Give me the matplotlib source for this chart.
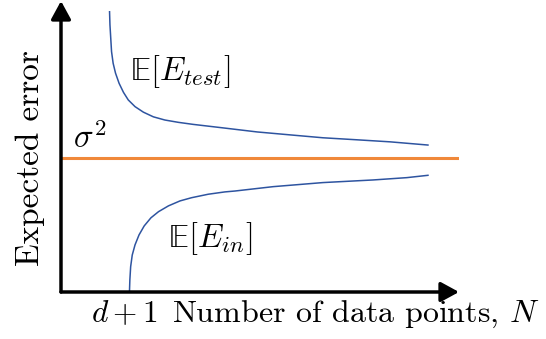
import matplotlib
matplotlib.use("Agg")
import matplotlib.pyplot as plt

plt.rcParams["font.family"] = ["cmr10", "DejaVu Serif"]
plt.rcParams["mathtext.fontset"] = "cm"
plt.rcParams["axes.formatter.use_mathtext"] = True

# Learning curves (arbitrary units: N along x, expected error along y)
test_n = [1.22, 1.23, 1.25, 1.27, 1.31, 1.37, 1.46, 1.57, 1.69, 1.86,
          2.07, 2.32, 2.61, 2.95, 3.32, 4.07, 4.93, 5.75, 6.58, 7.44,
          8.27, 9.22]
test_err = [9.63, 9.18, 8.72, 8.26, 7.86, 7.52, 7.17, 6.86, 6.60, 6.37,
            6.18, 6.02, 5.91, 5.83, 5.76, 5.64, 5.50, 5.40, 5.30, 5.23,
            5.16, 5.05]

in_n = [1.72, 1.73, 1.75, 1.79, 1.86, 1.96, 2.09, 2.26, 2.45, 2.70,
        2.99, 3.28, 3.70, 4.12, 4.37, 5.33, 6.58, 7.84, 8.69, 9.22]
in_err = [0.00, 0.41, 0.87, 1.27, 1.62, 1.96, 2.27, 2.55, 2.76, 2.96,
          3.13, 3.24, 3.36, 3.44, 3.47, 3.62, 3.76, 3.85, 3.93, 4.01]

noise_level = 4.60  # sigma^2
x_max, y_max = 10.0, 10.0

BLUE = "#2e54a0"
ORANGE = "#f0883a"
FS = 23.5

fig = plt.figure(figsize=(5.46, 3.39), dpi=100)
ax = fig.add_axes([61 / 546, 47 / 339, 398 / 546, 291 / 339])
ax.set_xlim(0, x_max)
ax.set_ylim(0, y_max)
ax.axis("off")

ax.plot(test_n, test_err, color=BLUE, lw=1.1)
ax.plot(in_n, in_err, color=BLUE, lw=1.1)
ax.axhline(noise_level, color=ORANGE, lw=2.2)

# axes drawn as arrows
arrow = dict(arrowstyle="-|>,head_length=0.55,head_width=0.3", lw=2.5,
             color="black", shrinkA=0, shrinkB=0, mutation_scale=20)
ax.annotate("", xy=(1, 0), xytext=(0, 0), xycoords="axes fraction",
            arrowprops=arrow, annotation_clip=False)
ax.annotate("", xy=(0, 1), xytext=(0, 0), xycoords="axes fraction",
            arrowprops=arrow, annotation_clip=False)

ax.text(1.73, 7.28, r"$\mathrm{\mathbb{E}}[E_{test}]$", fontsize=FS,
        va="baseline")
ax.text(2.70, 1.56, r"$\mathrm{\mathbb{E}}[E_{in}]$", fontsize=FS,
        va="baseline")
ax.text(0.30, 4.95, r"$\sigma^2$", fontsize=FS, va="baseline")
ax.text(0.76, -1.02, r"$d+1$", fontsize=FS - 1, va="baseline", clip_on=False)
ax.text(2.78, -1.02, r"Number of data points, $N$", fontsize=23,
        va="baseline", clip_on=False)
ax.text(-0.77, 4.59, "Expected error", fontsize=FS + 0.5, rotation=90,
        ha="center", va="center", clip_on=False)

fig.savefig("out.png", dpi=100)
